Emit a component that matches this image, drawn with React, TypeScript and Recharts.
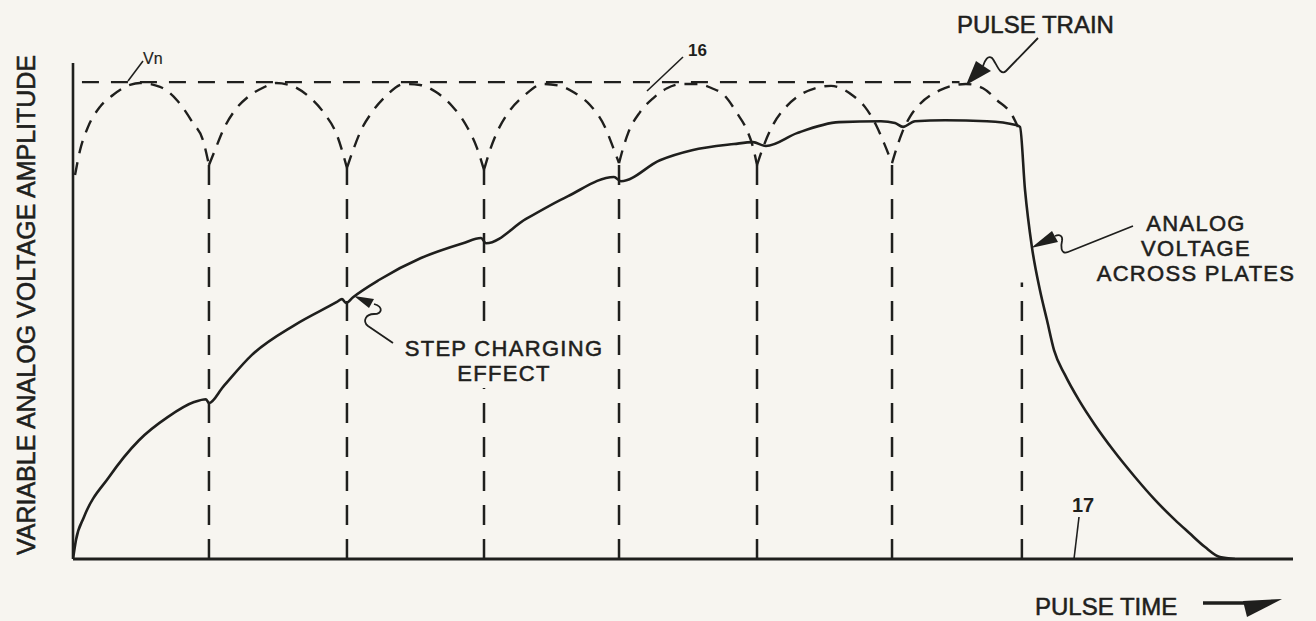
import { LineChart, Line, XAxis, YAxis, ReferenceLine } from 'recharts';

const W = 1316;
const H = 621;
const INK = '#1f1f1d';
const PAPER = '#f7f5f0';

// pulse time (t) vs amplitude (v), Vn = 100

// analog voltage across the plates (17)
const analog: [number, number][] = [
  [0, 0], [0.22, 4.0], [0.81, 8.8], [2.66, 17.2], [4.87, 24.9],
  [7.01, 29.8], [8.93, 32.9], [9.81, 33.5], [10.03, 32.7], [11.07, 36.1],
  [13.2, 42.8], [16.38, 49.1], [19.47, 53.9], [19.84, 54.5], [20.14, 53.7],
  [20.66, 54.9], [22.57, 58.5], [25.67, 63.1], [28.77, 66.2], [30.1, 67.3],
  [30.47, 66.2], [33.42, 71.3], [36.52, 76.1], [39.91, 80.1], [40.42, 79.2],
  [43.3, 83.6], [45.66, 85.7], [48.76, 87.0], [50.16, 87.4], [51.12, 86.6],
  [53.41, 89.3], [56.51, 91.6], [59.6, 91.8], [60.64, 91.4], [61.23, 90.6],
  [62.11, 91.8], [64.33, 92.0], [67.42, 91.8], [69.56, 91.0], [69.86, 90.6],
  [70.23, 77.4], [70.74, 65.4], [71.33, 56.4], [71.85, 50.1], [72.37, 43.8],
  [73.18, 38.6], [74.21, 33.3], [75.39, 28.1], [76.72, 22.9], [78.34, 17.2],
  [79.82, 12.4], [81.29, 8.2], [82.33, 5.5], [83.51, 2.5], [84.61, 0.4], [85.72, 0],
];

// pulse train (16), one arc per pulse
const pulse1: [number, number][] = [
  [0.15, 80.5], [0.52, 85.7], [1.11, 90.6], [1.99, 94.8], [2.95, 97.3], [4.2, 99.4],
  [4.94, 99.8], [6.42, 99.0], [7.67, 96.2], [8.85, 91.4], [9.59, 87.8], [10.03, 82.6],
];
const pulse2: [number, number][] = [
  [10.03, 82.6], [10.47, 85.7], [11.07, 89.9], [11.95, 94.1], [12.91, 96.9], [13.94, 98.7],
  [14.97, 99.8], [16.16, 99.2], [17.34, 97.1], [18.52, 93.5], [19.47, 88.9], [20.21, 82.0],
];
const pulse3: [number, number][] = [
  [20.21, 82.0], [20.66, 85.7], [21.25, 89.9], [22.06, 93.7], [23.09, 97.1], [24.42, 99.6],
  [25.6, 99.4], [26.78, 97.9], [27.96, 95.0], [28.99, 91.0], [29.8, 86.2], [30.32, 81.6],
];
const pulse4: [number, number][] = [
  [30.32, 81.6], [30.76, 85.7], [31.35, 89.9], [32.24, 94.1], [33.34, 97.3], [34.67, 99.6],
  [35.92, 99.2], [37.03, 97.7], [38.14, 95.2], [39.24, 90.6], [39.83, 86.4], [40.28, 83.0],
];
const pulse5: [number, number][] = [
  [40.28, 83.0], [40.65, 86.8], [40.95, 89.3], [41.83, 93.7], [42.79, 96.6], [43.82, 98.7],
  [44.98, 99.6], [46.09, 99.6], [47.14, 98.7], [48.02, 97.3], [48.98, 93.5], [49.72, 89.9],
  [50.16, 86.4], [50.46, 82.6],
];
const pulse6: [number, number][] = [
  [50.46, 82.6], [50.83, 85.7], [51.56, 90.6], [52.67, 95.0], [53.63, 97.3], [54.74, 98.7],
  [55.92, 99.2], [57.47, 97.3], [58.42, 94.8], [59.24, 91.0], [59.83, 87.2], [60.42, 83.0],
];
const pulse7: [number, number][] = [
  [60.42, 83.0], [60.71, 85.7], [61.15, 89.3], [61.74, 92.7], [62.41, 95.2], [63.96, 98.3],
  [65.87, 99.6], [67.13, 98.7], [68.16, 96.2], [69.27, 93.1], [69.71, 90.6],
];
const pulses = [pulse1, pulse2, pulse3, pulse4, pulse5, pulse6, pulse7];

// Vn level
const vnLevel: [number, number][] = [[0.66, 100], [65.4, 100]];

// pulse edges and how high the dashed drop lines reach
const pulseEdges = [10.03, 20.21, 30.32, 40.28, 50.46, 60.42, 70.0];
const edgeTops = [82.6, 82.0, 81.6, 83.0, 82.6, 83.0, 58];

const rows = (pts: [number, number][]) => pts.map(([t, v]) => ({ t, v }));

const textStyle = {
  fontFamily: '"Liberation Sans", Arial, sans-serif',
  fill: INK,
  stroke: INK,
  strokeWidth: 0.55,
};

function Notes() {
  return (
    <svg
      width={W}
      height={H}
      style={{ position: 'absolute', left: 0, top: 0, pointerEvents: 'none' }}
    >
      <text transform="translate(35,305) rotate(-90)" textAnchor="middle" fontSize={25} style={textStyle}>
        VARIABLE ANALOG VOLTAGE AMPLITUDE
      </text>

      {/* Vn */}
      <text x={143} y={64} fontSize={16} style={{ ...textStyle, strokeWidth: 0.2 }}>Vn</text>
      <path d="M128,81 L143,61" stroke={INK} strokeWidth={1.5} fill="none" />

      {/* 16 */}
      <text x={688} y={56} fontSize={17} fontWeight="bold" style={{ ...textStyle, strokeWidth: 0 }}>16</text>
      <path d="M683,57 L647,91" stroke={INK} strokeWidth={1.6} fill="none" />

      {/* pulse train */}
      <text x={957} y={33} fontSize={24} style={textStyle}>PULSE TRAIN</text>
      <path d="M1038,38 L1006,71 C1000,77 996,62 992,58 C988,55 985,60 983,66" stroke={INK} strokeWidth={1.8} fill="none" />
      <polygon points="966,85 976,61 991,71" fill={INK} />

      {/* step charging, the drop lines stop behind the words */}
      <rect x={394} y={334} width={218} height={54} fill={PAPER} />
      <text fontSize={22} letterSpacing={1.3} textAnchor="middle" style={textStyle}>
        <tspan x={504} y={356}>STEP CHARGING</tspan>
        <tspan x={504} y={381}>EFFECT</tspan>
      </text>
      <path d="M393,343 L368,326 C362,321 366,314 374,314 C382,314 384,307 374,304" stroke={INK} strokeWidth={1.8} fill="none" />
      <polygon points="354,296 374,299 369,308" fill={INK} />

      {/* analog voltage */}
      <text fontSize={22} letterSpacing={1.3} textAnchor="middle" style={textStyle}>
        <tspan x={1196} y={231}>ANALOG</tspan>
        <tspan x={1196} y={256}>VOLTAGE</tspan>
        <tspan x={1196} y={281}>ACROSS PLATES</tspan>
      </text>
      <path d="M1133,226 L1068,252 C1060,255 1061,245 1062,241 C1063,236 1060,234 1055,236" stroke={INK} strokeWidth={1.8} fill="none" />
      <polygon points="1031,248 1052,231 1058,242" fill={INK} />

      {/* 17 */}
      <text x={1072} y={512} fontSize={20} fontWeight="bold" style={{ ...textStyle, strokeWidth: 0 }}>17</text>
      <path d="M1079,517 L1074,559" stroke={INK} strokeWidth={1.6} fill="none" />

      {/* time axis */}
      <text x={1035} y={615} fontSize={24} style={textStyle}>PULSE TIME</text>
      <path d="M1203,603 L1250,603" stroke={INK} strokeWidth={3.5} fill="none" />
      <polygon points="1243,601 1282,599 1247,617" fill={INK} />
    </svg>
  );
}

export default function App() {
  return (
    <div style={{ position: 'absolute', left: 0, top: 0, width: W, height: H, background: PAPER }}>
      <LineChart width={W} height={H} margin={{ top: 63, right: 23, bottom: 62, left: 73 }}>
        <XAxis type="number" dataKey="t" domain={[0, 90]} hide allowDataOverflow />
        <YAxis type="number" dataKey="v" domain={[0, 104]} hide allowDataOverflow />

        <ReferenceLine x={0} stroke={INK} strokeWidth={2.6} />
        <ReferenceLine y={0} stroke={INK} strokeWidth={3} />

        <Line
          data={rows(vnLevel)}
          dataKey="v"
          type="linear"
          stroke={INK}
          strokeWidth={2.4}
          strokeDasharray="17 12"
          dot={false}
          activeDot={false}
          isAnimationActive={false}
        />

        {pulseEdges.map((t, i) => (
          <Line
            key={`edge-${i}`}
            data={rows([[t, 0], [t, edgeTops[i]]])}
            dataKey="v"
            type="linear"
            stroke={INK}
            strokeWidth={2.5}
            strokeDasharray="20 14"
            dot={false}
            activeDot={false}
            isAnimationActive={false}
          />
        ))}

        {pulses.map((arc, i) => (
          <Line
            key={`pulse-${i}`}
            data={rows(arc)}
            dataKey="v"
            type="monotone"
            stroke={INK}
            strokeWidth={2.4}
            strokeDasharray="13 9"
            dot={false}
            activeDot={false}
            isAnimationActive={false}
          />
        ))}

        <Line
          data={rows(analog)}
          dataKey="v"
          type="monotone"
          stroke={INK}
          strokeWidth={2.6}
          dot={false}
          activeDot={false}
          isAnimationActive={false}
        />
      </LineChart>
      <Notes />
    </div>
  );
}
